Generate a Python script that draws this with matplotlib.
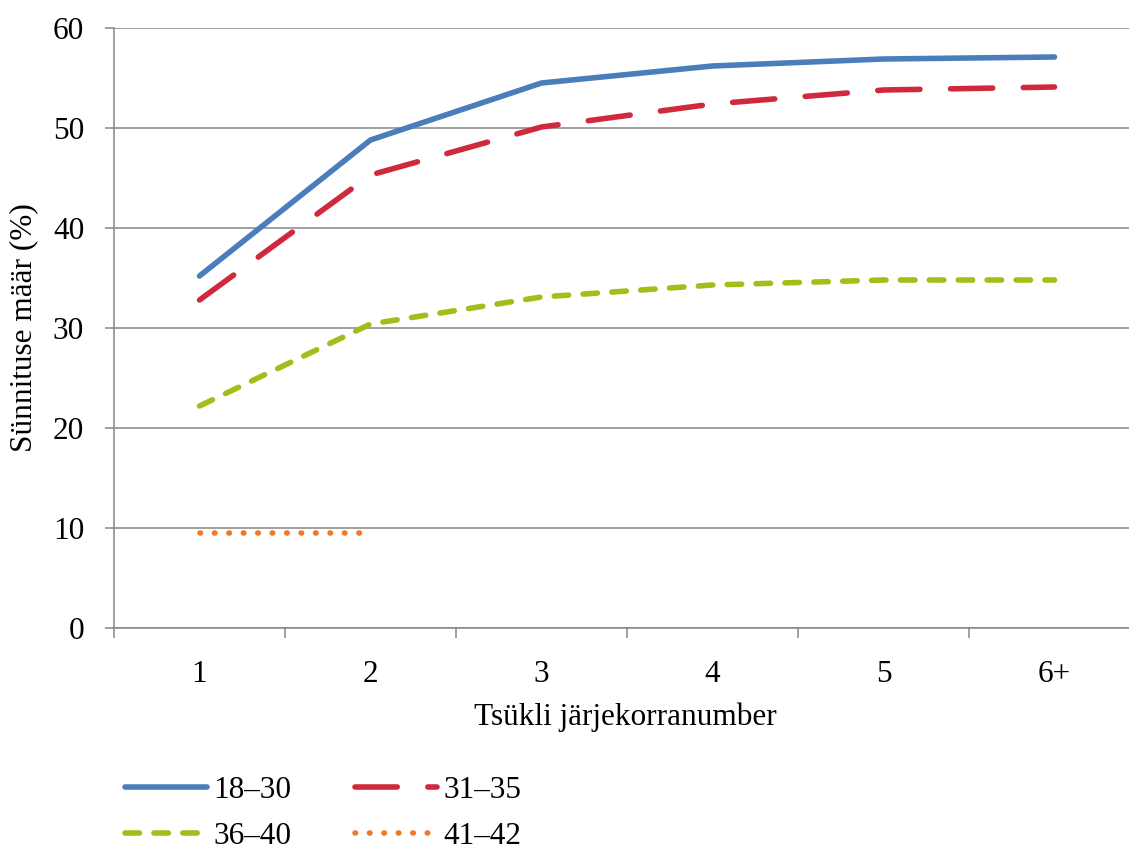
import matplotlib
matplotlib.use('Agg')
import matplotlib.pyplot as plt
import numpy as np

# andmed
categories = ['1', '2', '3', '4', '5', '6+']
s_18_30 = [35.2, 48.8, 54.5, 56.2, 56.9, 57.1]
s_31_35 = [32.8, 45.3, 50.1, 52.4, 53.8, 54.1]
s_36_40 = [22.2, 30.4, 33.1, 34.3, 34.8, 34.8]
s_41_42 = [9.5, 9.5]
labels = ['18–30', '31–35', '36–40', '41–42']

plt.rcParams['font.family'] = ['Liberation Serif', 'DejaVu Serif']
fs = 22.5
grey = '#868686'

fig = plt.figure(figsize=(11.29, 8.52), dpi=100)
W, H = 1129, 852
ax = fig.add_axes([114 / W, (H - 628) / H, (1140 - 114) / W, 600 / H])

x = np.arange(len(categories))
lw = 4.0
l1, = ax.plot(x, s_18_30, color='#4a7ebb', lw=lw, solid_capstyle='round', solid_joinstyle='round')
l2, = ax.plot(x, s_31_35, color='#d0283c', lw=lw, dashes=(7.6, 5.5), dash_capstyle='round')
l3, = ax.plot(x, s_36_40, color='#9fc018', lw=lw, dashes=(2.6, 2.6), dash_capstyle='round')
l4, = ax.plot(x[:len(s_41_42)], s_41_42, color='#f0782a', lw=lw, dashes=(0.1, 2.5), dash_capstyle='round')

ax.set_xlim(-0.5, len(categories) - 0.5)
ax.set_ylim(0, 60)
ax.set_yticks(range(0, 61, 10))
ax.set_xticks(x)
ax.set_xticklabels(categories)
ax.set_xticks(np.arange(-0.5, len(categories), 1.0), minor=True)
ax.tick_params(axis='x', which='major', length=0, pad=23, labelsize=fs)
ax.tick_params(axis='x', which='minor', length=7, width=1.1, color=grey, direction='out')
ax.tick_params(axis='y', length=6.5, width=1.1, color=grey, pad=15, labelsize=fs)

ax.yaxis.grid(True, color=grey, lw=1.1)
ax.set_axisbelow(True)
for side in ['top', 'right']:
    ax.spines[side].set_visible(False)
ax.spines['left'].set_color(grey)
ax.spines['left'].set_linewidth(1.1)
ax.spines['bottom'].set_color(grey)
ax.spines['bottom'].set_linewidth(1.1)

ax.set_xlabel('Tsükli järjekorranumber', fontsize=fs)
ax.set_ylabel('Sünnituse määr (%)', fontsize=fs)
ax.xaxis.set_label_coords((625 - 114) / (1140 - 114), -(702 - 628) / 600)
ax.yaxis.set_label_coords(-(114 - 38) / (1140 - 114), 0.5)

# Excel täidab legendi ridade kaupa
fig.legend([l1, l3, l2, l4], [labels[0], labels[2], labels[1], labels[3]],
           ncol=2, loc='upper left',
           bbox_to_anchor=(125 / W, 1 - 776 / H), frameon=False, fontsize=fs,
           handlelength=2.62, handletextpad=0.2, columnspacing=2.05,
           labelspacing=0.55, borderpad=0, borderaxespad=0)

fig.savefig('out.png', dpi=100)
